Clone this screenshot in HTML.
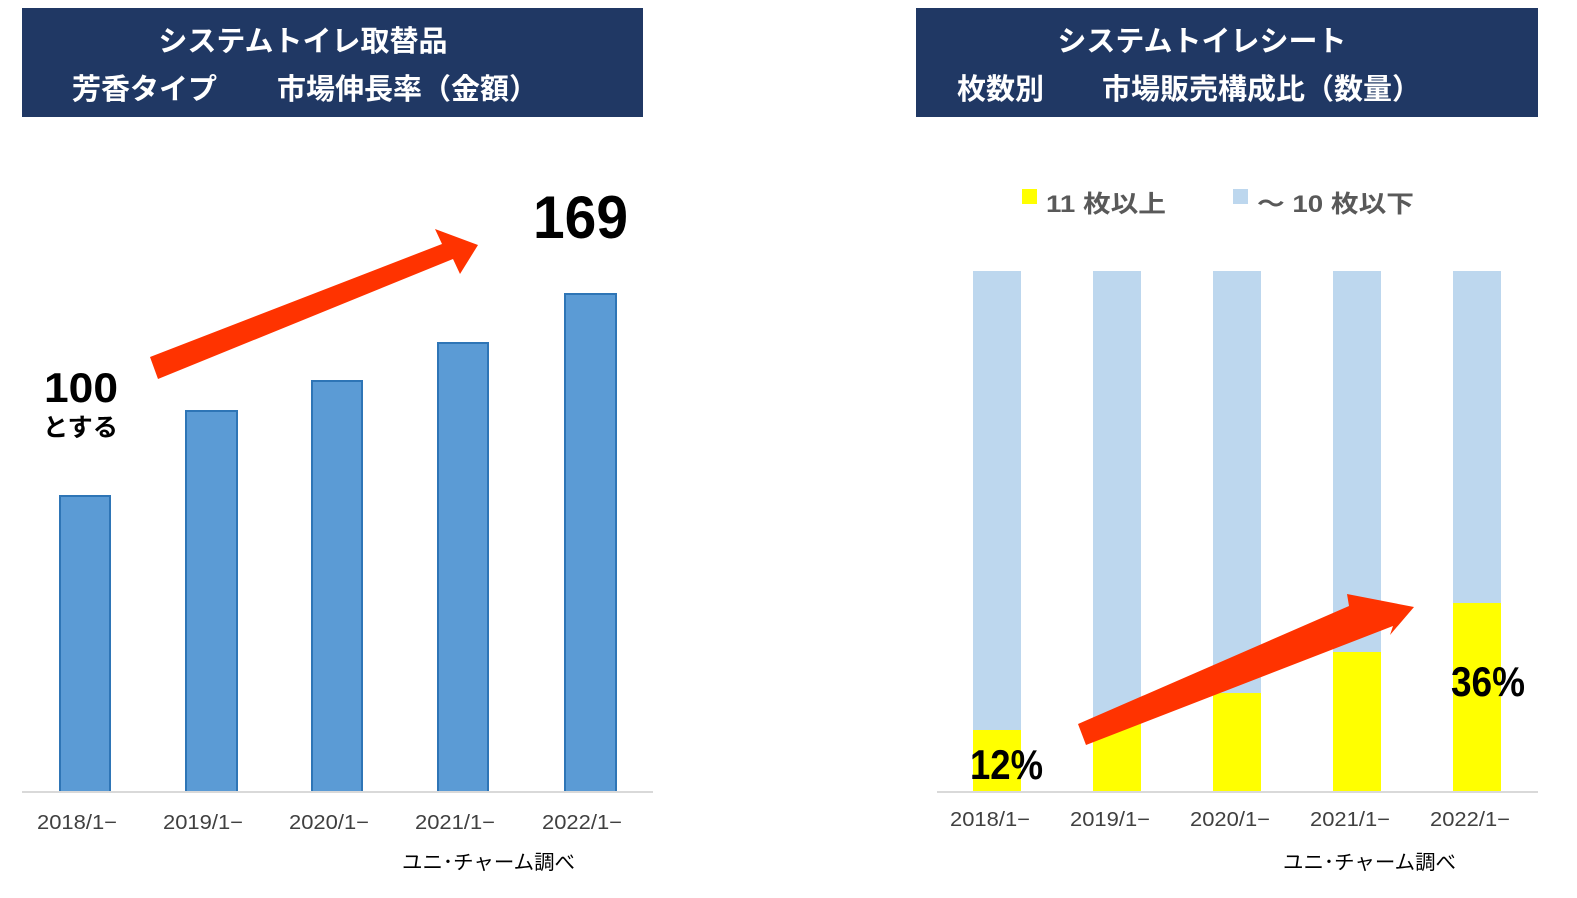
<!DOCTYPE html>
<html><head><meta charset="utf-8"><style>
body{margin:0;background:#fff;}
svg text{font-family:"Liberation Sans","Noto Sans CJK JP",sans-serif;}
</style></head><body>
<svg width="1577" height="893" viewBox="0 0 1577 893" xmlns="http://www.w3.org/2000/svg">
<rect width="1577" height="893" fill="#fff"/>
<!-- Left title -->
<rect x="22" y="8" width="621" height="109" fill="#203864"/>
<text x="303" y="51" fill="#fff" font-size="29" font-weight="bold" text-anchor="middle">システムトイレ取替品</text>
<text x="72" y="99" fill="#fff" font-size="29" font-weight="bold">芳香タイプ</text>
<text x="277" y="99" fill="#fff" font-size="29" font-weight="bold">市場伸長率（金額）</text>
<!-- Left bars -->
<g fill="#5b9bd5" stroke="#2e75b6" stroke-width="2">
<rect x="60" y="496" width="50" height="296"/>
<rect x="186" y="411" width="51" height="381"/>
<rect x="312" y="381" width="50" height="411"/>
<rect x="438" y="343" width="50" height="449"/>
<rect x="565" y="294" width="51" height="498"/>
</g>
<line x1="22" y1="792" x2="653" y2="792" stroke="#d9d9d9" stroke-width="2"/>
<g font-size="20" fill="#404040">
<text x="37" y="829" textLength="80" lengthAdjust="spacingAndGlyphs">2018/1−</text>
<text x="163" y="829" textLength="80" lengthAdjust="spacingAndGlyphs">2019/1−</text>
<text x="289" y="829" textLength="80" lengthAdjust="spacingAndGlyphs">2020/1−</text>
<text x="415" y="829" textLength="80" lengthAdjust="spacingAndGlyphs">2021/1−</text>
<text x="542" y="829" textLength="80" lengthAdjust="spacingAndGlyphs">2022/1−</text>
</g>
<text x="402" y="869" font-size="20" fill="#000" textLength="173" lengthAdjust="spacingAndGlyphs">ユニ･チャーム調べ</text>
<text x="44" y="402" font-size="42" font-weight="bold" textLength="74" lengthAdjust="spacingAndGlyphs">100</text>
<text x="43" y="436" font-size="25" font-weight="bold" textLength="75" lengthAdjust="spacingAndGlyphs">とする</text>
<text x="533" y="238" font-size="60" font-weight="bold" textLength="95" lengthAdjust="spacingAndGlyphs">169</text>
<polygon points="150,357 442,244 435,229 478,245 460,274 453,259 158,379" fill="#ff3300"/>
<!-- Right title -->
<rect x="916" y="8" width="622" height="109" fill="#203864"/>
<text x="1202" y="51" fill="#fff" font-size="29" font-weight="bold" text-anchor="middle">システムトイレシート</text>
<text x="957" y="99" fill="#fff" font-size="29" font-weight="bold">枚数別</text>
<text x="1102" y="99" fill="#fff" font-size="29" font-weight="bold">市場販売構成比（数量）</text>
<!-- legend -->
<rect x="1022" y="189" width="15" height="15" fill="#ffff00"/>
<text x="1046" y="212" font-size="24" font-weight="bold" fill="#595959" textLength="120" lengthAdjust="spacingAndGlyphs">11 枚以上</text>
<rect x="1233" y="189" width="15" height="15" fill="#bdd7ee"/>
<text x="1257" y="212" font-size="24" font-weight="bold" fill="#595959" textLength="157" lengthAdjust="spacingAndGlyphs">～ 10 枚以下</text>
<!-- right bars -->
<g fill="#bdd7ee">
<rect x="973" y="271" width="48" height="521"/>
<rect x="1093" y="271" width="48" height="521"/>
<rect x="1213" y="271" width="48" height="521"/>
<rect x="1333" y="271" width="48" height="521"/>
<rect x="1453" y="271" width="48" height="521"/>
</g>
<g fill="#ffff00">
<rect x="973" y="730" width="48" height="62"/>
<rect x="1093" y="720" width="48" height="72"/>
<rect x="1213" y="693" width="48" height="99"/>
<rect x="1333" y="652" width="48" height="140"/>
<rect x="1453" y="603" width="48" height="189"/>
</g>
<line x1="937" y1="792" x2="1538" y2="792" stroke="#d9d9d9" stroke-width="2"/>
<g font-size="20" fill="#404040">
<text x="950" y="826" textLength="80" lengthAdjust="spacingAndGlyphs">2018/1−</text>
<text x="1070" y="826" textLength="80" lengthAdjust="spacingAndGlyphs">2019/1−</text>
<text x="1190" y="826" textLength="80" lengthAdjust="spacingAndGlyphs">2020/1−</text>
<text x="1310" y="826" textLength="80" lengthAdjust="spacingAndGlyphs">2021/1−</text>
<text x="1430" y="826" textLength="80" lengthAdjust="spacingAndGlyphs">2022/1−</text>
</g>
<text x="1283" y="869" font-size="20" fill="#000" textLength="173" lengthAdjust="spacingAndGlyphs">ユニ･チャーム調べ</text>
<text x="970" y="779" font-size="42" font-weight="bold" textLength="73" lengthAdjust="spacingAndGlyphs">12%</text>
<text x="1451" y="696" font-size="42" font-weight="bold" textLength="74" lengthAdjust="spacingAndGlyphs">36%</text>
<polygon points="1078,724 1349,606 1347,594 1414,607 1390,635 1393,626 1086,745" fill="#ff3300"/>
</svg>
</body></html>
